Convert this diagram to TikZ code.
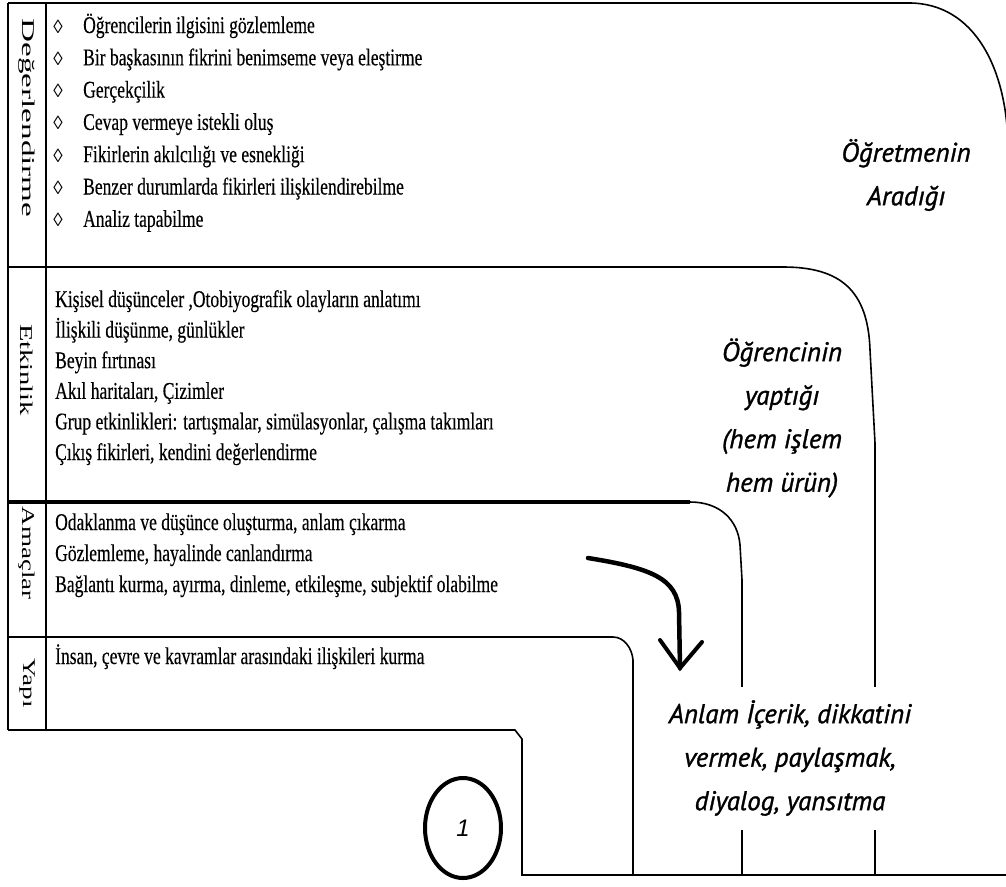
\documentclass[tikz,border=0pt]{standalone}
\usepackage{fontspec}
\usepackage{graphicx}
\usetikzlibrary{shapes.geometric}
\setmainfont{Liberation Serif}
\newfontfamily\rowfont[FakeStretch=0.73,FakeBold=0.3]{Liberation Serif}
\newfontfamily\notefont[FakeBold=1.2]{PT Sans}
\newfontfamily\numfont{Liberation Sans}

\tikzset{
  rule/.style={line width=1.6pt},
  rulethick/.style={line width=4.5pt},
  item/.style={anchor=base west, inner sep=0pt, font=\rowfont\fontsize{24}{26}\selectfont},
  bullet/.style={anchor=base, inner sep=0pt, font=\fontsize{19}{24}\selectfont},
  rowlabel/.style={rotate=-90, inner sep=0pt, font=\fontsize{18}{20}\selectfont},
  note/.style={align=center, inner sep=0pt, font=\notefont\itshape\fontsize{27}{43.5}\selectfont},
  brush/.style={line width=4.5pt, line cap=round, line join=round},
}

\begin{document}
\begin{tikzpicture}[x=1pt,y=-1pt]
\useasboundingbox (0,0) rectangle (1006,886);
\clip (0,0) rectangle (1006,886);

% table frame and label column
\draw[rule] (8,3) -- (8,730);
\draw[rule] (46,3) -- (46,730);

% outer band (teacher)
\draw[rule] (8,3) -- (909,3) .. controls (975,3) and (1008,70) .. (1008,150) -- (1008,886);
% second band (student)
\draw[rule] (8,267) -- (783,267) .. controls (840,267) and (868,290) .. (870,350) -- (875,443) -- (875,875);
% third band (aims)
\draw[rulethick] (8,502) -- (690,502);
\draw[rule] (690,502) .. controls (720,502) and (738,520) .. (740,545) -- (742,580) -- (742,875);
% fourth band (structure)
\draw[rule] (8,637) -- (613,637) .. controls (624,637) and (632,648) .. (633,660) -- (633,875);
% bottom step
\draw[rule] (8,730) -- (515,730) -- (522,739) -- (522,875) -- (1010,875);

% row labels
\node[rowlabel] (labEval) at (27,118) {\resizebox{199pt}{\height}{Değerlendirme}};
\node[rowlabel] (labAct) at (27,370) {\resizebox{92pt}{\height}{Etkinlik}};
\node[rowlabel] (labAim) at (27,553) {\resizebox{93pt}{\height}{Amaçlar}};
\node[rowlabel] (labStr) at (27,683) {\resizebox{50pt}{\height}{Yapı}};

% evaluation items
\node[bullet] (b1) at (58,33.0) {◊};
\node[bullet] (b2) at (58,65.3) {◊};
\node[bullet] (b3) at (58,97.6) {◊};
\node[bullet] (b4) at (58,129.9) {◊};
\node[bullet] (b5) at (58,162.2) {◊};
\node[bullet] (b6) at (58,194.5) {◊};
\node[bullet] (b7) at (58,226.8) {◊};
\node[item] (e1) at (83,33.0) {Öğrencilerin ilgisini gözlemleme};
\node[item] (e2) at (83,65.3) {Bir başkasının fikrini benimseme veya eleştirme};
\node[item] (e3) at (83,97.6) {Gerçekçilik};
\node[item] (e4) at (83,129.9) {Cevap vermeye istekli oluş};
\node[item] (e5) at (83,162.2) {Fikirlerin akılcılığı ve esnekliği};
\node[item] (e6) at (83,194.5) {Benzer durumlarda fikirleri ilişkilendirebilme};
\node[item] (e7) at (83,226.8) {Analiz tapabilme};

% activity items
\node[item] (a1) at (55,307) {Kişisel düşünceler ,Otobiyografik olayların anlatımı};
\node[item] (a2) at (55,337.6) {İlişkili düşünme, günlükler};
\node[item] (a3) at (55,368.2) {Beyin fırtınası};
\node[item] (a4) at (55,398.8) {Akıl haritaları, Çizimler};
\node[item] (a5) at (55,429.4) {Grup etkinlikleri: tartışmalar, simülasyonlar, çalışma takımları};
\node[item] (a6) at (55,460) {Çıkış fikirleri, kendini değerlendirme};

% aims
\node[item] (m1) at (55,530) {Odaklanma ve düşünce oluşturma, anlam çıkarma};
\node[item] (m2) at (55,561) {Gözlemleme, hayalinde canlandırma};
\node[item] (m3) at (55,592) {Bağlantı kurma, ayırma, dinleme, etkileşme, subjektif olabilme};

% structure
\node[item] (s1) at (55,664) {İnsan, çevre ve kavramlar arasındaki ilişkileri kurma};

% curved arrow
\coordinate (arrS) at (588,558);
\coordinate (arrT) at (680,668);
\coordinate (armL) at (660,640);
\coordinate (armR) at (702,642);
\draw[brush] (arrS) .. controls (650,568) and (678,578) .. (679,612) -- (arrT);
\draw[line width=4pt, line cap=round, line join=miter] (armL) -- (arrT) -- (armR);

% numbered ellipse
\node[draw, ellipse, line width=4pt, minimum width=76pt, minimum height=100pt, inner sep=0pt,
      font=\numfont\itshape\fontsize{24}{24}\selectfont] (one) at (463,828) {1};

% band captions
\node[note] (teacher) at (906,175) {Öğretmenin\\Aradığı};
\node[note] (student) at (782,418) {Öğrencinin\\yaptığı\\(hem işlem\\hem ürün)};
\node[note, fill=white, minimum height=143pt, inner xsep=4pt] (meaning) at (790,758)
  {Anlam İçerik, dikkatini\\vermek, paylaşmak,\\diyalog, yansıtma};
\end{tikzpicture}
\end{document}
